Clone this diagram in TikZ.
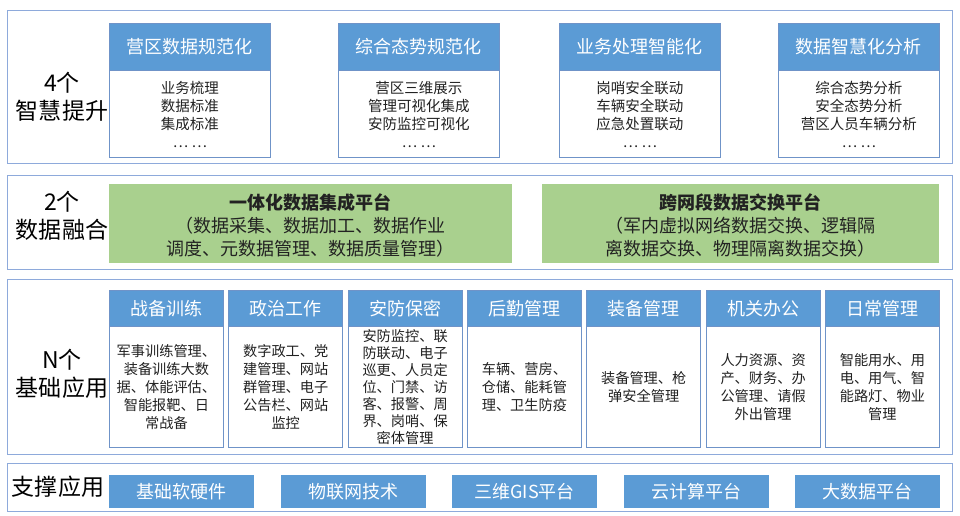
\documentclass[tikz,border=0pt]{standalone}
\usepackage{fontspec}
\setmainfont{Noto Sans CJK SC}
\usetikzlibrary{calc}
\definecolor{hdrblue}{HTML}{5B9BD5}
\definecolor{framecol}{HTML}{8EAADB}
\definecolor{cardline}{HTML}{6F93C8}
\definecolor{grn}{HTML}{A9D08E}
\definecolor{txt}{HTML}{222222}
\definecolor{shadowcol}{HTML}{D6DDE6}
\begin{document}
\begin{tikzpicture}[x=1pt,y=-1pt,
  outer/.style={draw=framecol,line width=1.2pt,fill=white,anchor=north west,inner sep=0pt},
  card/.style={draw=cardline,line width=0.8pt,fill=white,anchor=north west,inner sep=0pt},
  hdr/.style={draw=cardline,line width=0.8pt,fill=hdrblue,anchor=north west,inner sep=0pt,text=white},
  tophdr/.style={hdr,minimum width=161pt,minimum height=47pt,font=\fontsize{18}{20}\selectfont},
  topcard/.style={card,minimum width=161pt,minimum height=134pt},
  topbody/.style={align=center,text=txt,font=\fontsize{14.5}{18}\selectfont,inner sep=0pt},
  appcard/.style={card,minimum width=114pt,minimum height=157pt},
  apphdr/.style={hdr,minimum width=114pt,minimum height=36pt,font=\fontsize{18}{20}\selectfont},
  appbody/.style={align=center,text=txt,font=\fontsize{14.2}{18}\selectfont,inner sep=0pt},
  greenbox/.style={fill=grn,draw=none,anchor=north west,minimum width=#1,minimum height=79pt,inner sep=0pt},
  greentext/.style={align=center,text=txt,font=\fontsize{18}{23}\selectfont,inner sep=0pt},
  sidelabel/.style={align=center,text=black,font=\fontsize{23}{28}\selectfont,inner sep=0pt},
  btn/.style={fill=hdrblue,draw=none,anchor=north west,minimum width=145pt,minimum height=33pt,inner sep=0pt,text=white,font=\fontsize{18}{20}\selectfont}
]
\useasboundingbox (0,0) rectangle (960,516);
\fill[white] (0,0) rectangle (960,516);

% ---------- outer section frames
\node[outer,minimum width=945pt,minimum height=153pt] (s1) at (7,10) {};
\node[outer,minimum width=945pt,minimum height=94pt] (s2) at (7,175) {};
\node[outer,minimum width=945pt,minimum height=175pt] (s3) at (7,279) {};
\node[outer,minimum width=945pt,minimum height=48pt] (s4) at (7,463) {};

% ---------- section labels
\node[sidelabel] (l1) at (62,97) {4个\\智慧提升};
\node[sidelabel] (l2) at (62,216) {2个\\数据融合};
\node[sidelabel] (l3) at (62,374) {N个\\基础应用};
\node[sidelabel] (l4) at (58,487) {支撑应用};

% ---------- row 1: four cards
\node[topcard] (c1) at (109,23) {};
\node[tophdr] (h1) at (109,23) {营区数据规范化};
\node[topbody] (b1) at ($(h1.south)!0.5!(c1.south)$) {业务梳理\\数据标准\\集成标准\\… …};

\node[topcard] (c2) at (338,23) {};
\node[tophdr] (h2) at (338,23) {综合态势规范化};
\node[topbody] (b2) at ($(h2.south)!0.5!(c2.south)$) {营区三维展示\\管理可视化集成\\安防监控可视化\\… …};

\node[topcard] (c3) at (559,23) {};
\node[tophdr] (h3) at (559,23) {业务处理智能化};
\node[topbody] (b3) at ($(h3.south)!0.5!(c3.south)$) {岗哨安全联动\\车辆安全联动\\应急处置联动\\… …};

\node[topcard] (c4) at (778,23) {};
\node[tophdr] (h4) at (778,23) {数据智慧化分析};
\node[topbody] (b4) at ($(h4.south)!0.5!(c4.south)$) {综合态势分析\\安全态势分析\\营区人员车辆分析\\… …};

% ---------- row 2: green platforms
\node[greenbox=403pt] (g1) at (109,184) {};
\node[greentext] (gt1) at ($(g1.center)+(0,2)$) {\textbf{一体化数据集成平台}\\（数据采集、数据加工、数据作业\\调度、元数据管理、数据质量管理）};
\node[greenbox=397pt] (g2) at (542,184) {};
\node[greentext] (gt2) at ($(g2.center)+(0,2)$) {\textbf{跨网段数据交换平台}\\（军内虚拟网络数据交换、逻辑隔\\离数据交换、物理隔离数据交换）};

% ---------- row 3: seven application cards
\node[appcard] (a1) at (109,290) {};
\node[apphdr] (ah1) at (109,290) {战备训练};
\node[appbody] (ab1) at ($(ah1.south)!0.5!(a1.south)$) {军事训练管理、\\装备训练大数\\据、体能评估、\\智能报靶、日\\常战备};

\node[appcard] (a2) at (228.3,290) {};
\node[apphdr] (ah2) at (228.3,290) {政治工作};
\node[appbody] (ab2) at ($(ah2.south)!0.5!(a2.south)$) {数字政工、党\\建管理、网站\\群管理、电子\\公告栏、网站\\监控};

\node[appcard] (a3) at (347.7,290) {};
\node[apphdr] (ah3) at (347.7,290) {安防保密};
\node[appbody,font=\fontsize{14.2}{17}\selectfont] (ab3) at ($(ah3.south)!0.5!(a3.south)$) {安防监控、联\\防联动、电子\\巡更、人员定\\位、门禁、访\\客、报警、周\\界、岗哨、保\\密体管理};

\node[appcard] (a4) at (467,290) {};
\node[apphdr] (ah4) at (467,290) {后勤管理};
\node[appbody] (ab4) at ($(ah4.south)!0.5!(a4.south)$) {车辆、营房、\\仓储、能耗管\\理、卫生防疫};

\node[appcard] (a5) at (586.3,290) {};
\node[apphdr] (ah5) at (586.3,290) {装备管理};
\node[appbody] (ab5) at ($(ah5.south)!0.5!(a5.south)$) {装备管理、枪\\弹安全管理};

\node[appcard] (a6) at (705.7,290) {};
\node[apphdr] (ah6) at (705.7,290) {机关办公};
\node[appbody] (ab6) at ($(ah6.south)!0.5!(a6.south)$) {人力资源、资\\产、财务、办\\公管理、请假\\外出管理};

\node[appcard] (a7) at (825,290) {};
\node[apphdr] (ah7) at (825,290) {日常管理};
\node[appbody] (ab7) at ($(ah7.south)!0.5!(a7.south)$) {智能用水、用\\电、用气、智\\能路灯、物业\\管理};

% ---------- row 4: support buttons
\node[btn] (p1) at (109,475) {基础软硬件};
\node[btn] (p2) at (280.5,475) {物联网技术};
\node[btn] (p3) at (452,475) {三维GIS平台};
\node[btn] (p4) at (623.5,475) {云计算平台};
\node[btn] (p5) at (795,475) {大数据平台};
\end{tikzpicture}
\end{document}
